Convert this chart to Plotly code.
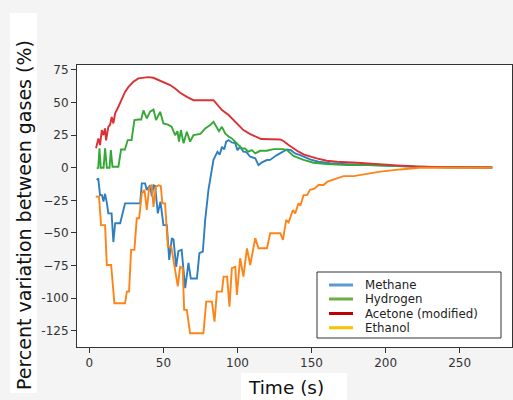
import plotly.graph_objects as go

# ---- data ----
methane_t = [5, 6, 7.2, 8.5, 9.5, 10.6, 11.8, 12.8, 15, 16.2, 17.4, 20.8, 24.1, 34.3, 35.4, 37.6, 38.8, 41, 42.2,
             43.3, 44.4, 46.2, 48, 49.3, 50, 52.3, 53.9, 55.7, 56.8, 58.6, 60.1, 62.3, 64.7, 66.9, 68.5, 72.6, 74.3,
             76.6, 78.2, 80.4, 82.7, 83.8, 86.5, 88, 89.5, 91, 92.4, 94, 96.2, 98.4, 100, 101.8, 104, 106, 108.6,
             112, 114.2, 116.5, 119.9, 122, 126.6, 131, 133.4, 136, 138.9, 142.3, 145.6, 149, 154.7, 162.6, 173.8,
             189.5, 205.4, 220, 240, 272]
methane_v = [-9.4, -8.2, -21, -21, -26, -20, -27, -35, -35, -57, -42.6, -42.6, -27.3, -27.3, -12, -12, -17, -13.5, -22,
             -13.5, -14, -35, -26, -37.5, -44, -44, -70.7, -54, -55, -76, -64, -63, -92.4, -73, -85, -85, -65.6,
             -64.4, -40, -17, -2, 6, 12.3, 10, 16, 14, 20, 21.2, 19.4, 19, 13.5, 16, 12.3, 12, 8.4,
             7.2, 2, 4.1, 5.9, 6, 9.7, 12.3, 14, 13.5, 11, 9.7, 8, 6.4, 4.6, 3.4, 2.8,
             2, 1.5, 0.8, 0.4, 0.2]

hydrogen_t = [5, 6, 6.8, 7.7, 9.6, 10.6, 11.8, 13.6, 14.5, 15.6, 19.6, 21.4, 24, 25.9, 28.5, 30.4, 33.1, 35, 36.5,
              38.8, 41, 43.3, 45, 47.8, 50, 53, 55.5, 57.9, 59.5, 60.5, 61.8, 63.6, 65.8, 68, 70.3, 75, 78.2, 81.6,
              83.8, 86, 87.5, 89.5, 91.7, 94, 96.2, 98.4, 100.7, 103, 105, 107.4, 109.7, 112, 115.3, 119.9, 124.3,
              131, 133.4, 137.8, 144.6, 151.4, 160.3, 173.8, 187, 205.4, 220, 240, 272]
hydrogen_v = [-0.5, 0, 14.9, 0, 0, 14.9, 0, 0, 13.6, 0.8, 0.8, 14, 14, 21.2, 21.2, 36.5, 37, 37, 44,
              37.8, 43, 44.7, 36.5, 42.9, 34, 33, 31.5, 25, 28, 20, 28.9, 18.7, 27.6, 20, 25, 26, 30.2, 32.7,
              35.2, 31.4, 28, 31.4, 26.3, 24, 22.5, 20, 17.4, 14.8, 14.8, 12.3, 13.5, 11, 13, 13, 14.3,
              14.3, 13.5, 9, 6, 3.8, 2.8, 2, 2, 1.3, 0.6, 0.3, 0.2]

acetone_t = [4.5, 6.1, 7.2, 8.4, 9.5, 10.6, 11.3, 12.8, 14, 15.1, 16.2, 17.4, 19.6, 21.9, 24.1, 26.4, 29.7, 33.1,
             36.5, 39.9, 43.2, 47.8, 51.1, 54.5, 57.9, 61.3, 65.8, 70.3, 83.8, 86, 89.5, 94, 97.3, 100.7, 104,
             108.6, 113, 116, 128.9, 131, 134.5, 138, 141.2, 145, 149, 153.5, 160.3, 167.2, 180.7, 192, 201,
             207.7, 220, 240, 272]
acetone_v = [14.9, 22.5, 17.4, 28.9, 25, 30.2, 21, 31.4, 33, 39, 34, 41.8, 46.8, 53.2, 58.2, 62, 65.9, 68.5,
             69.2, 69.5, 69, 66.7, 64.7, 63.4, 60.8, 57.5, 54.4, 51.8, 51.8, 48.8, 44.2, 40.4, 36.5, 32.7, 28.9,
             25.8, 23.3, 22, 21.7, 20.5, 17.4, 14.5, 12.3, 10, 8.4, 7.2, 5.4, 4.6, 3.8, 2.8, 2.3,
             1.8, 1, 0.5, 0.3]

ethanol_t = [4.3, 6.5, 7.9, 10.6, 11.8, 14.7, 16.9, 24.1, 25.3, 26.8, 28.2, 30.4, 32, 33.6, 35.4, 37.2, 38.8,
             40.3, 42, 43.3, 44.9, 46.7, 48.2, 49.3, 51.1, 53, 55.3, 56.8, 59.7, 61.3, 63, 64, 65.8, 68, 77,
             78.9, 82.7, 84.5, 86.1, 89.5, 90.6, 93, 94.6, 96.2, 98.5, 99.6, 101.8, 104, 106.4, 108.6, 112,
             114.2, 119.9, 122.1, 128.9, 130.7, 132.9, 134.5, 137.4, 139, 141.2, 142.5, 144.6, 147, 149, 152,
             154.7, 158, 160.8, 167.2, 171.6, 178.4, 186.3, 196.4, 210, 223, 272]
ethanol_v = [-22.2, -22, -44, -44, -74.6, -74.6, -104, -104, -95, -95, -63, -63, -38.8, -38.8, -19.6, -17, -32.4,
             -15.8, -13, -30, -14.6, -13.5, -14, -27.3, -27.3, -60.5, -60.5, -70.7, -91, -76, -77, -109, -109, -127, -127,
             -102.7, -102.7, -118, -95, -95, -83.5, -83.5, -106.5, -77, -76, -97.5, -69.4, -83.5, -61.8, -74.6, -54,
             -61.8, -61.8, -50.3, -50.3, -55.4, -40, -42, -32.4, -35, -27.3, -29, -21, -21, -17, -16,
             -13.3, -13.3, -10.7, -8.1, -6.4, -6.4, -4.8, -3, -1.3, 0, 0]

legend_names = ["Methane", "Hydrogen", "Acetone (modified)", "Ethanol"]
legend_colors = ["#5b9bd5", "#70ad47", "#c00000", "#ffc000"]

x_ticks = [0, 50, 100, 150, 200, 250]
y_ticks = [75, 50, 25, 0, -25, -50, -75, -100, -125]
y_ticktext = ["75", "50", "25", "0", "\u221225", "\u221250", "\u221275", "-100", "-125"]

# ---- figure ----
fig = go.Figure()
series = [
    ("Methane", methane_t, methane_v, "#2f7fc0"),
    ("Hydrogen", hydrogen_t, hydrogen_v, "#35a835"),
    ("Acetone (modified)", acetone_t, acetone_v, "#dc3033"),
    ("Ethanol", ethanol_t, ethanol_v, "#ff8418"),
]
for name, t, v, c in series:
    fig.add_trace(go.Scatter(x=t, y=v, mode="lines", name=name, showlegend=False,
                             line=dict(color=c, width=1.9)))

W, H = 513, 400
L, R, T, B = 77, 1, 65, 53
pw, ph = W - L - R, H - T - B


def px(x):
    return (x - L) / pw


def py(y):
    return (H - B - y) / ph


shapes = [
    # white boxes behind the axis titles
    dict(type="rect", xref="paper", yref="paper", x0=px(10), x1=px(37), y0=py(393), y1=py(13),
         fillcolor="white", line=dict(width=0), layer="below"),
    dict(type="rect", xref="paper", yref="paper", x0=px(241), x1=px(347), y0=py(400), y1=py(373),
         fillcolor="white", line=dict(width=0), layer="below"),
    # legend box
    dict(type="rect", xref="paper", yref="paper", x0=px(317), x1=px(501), y0=py(338), y1=py(272),
         fillcolor="white", line=dict(color="#333333", width=1)),
]
annotations = [
    dict(text="Percent variation between gases (%)", xref="paper", yref="paper", x=px(24), y=py(215),
         textangle=-90, showarrow=False, font=dict(family="DejaVu Sans", size=19, color="#111111"),
         xanchor="center", yanchor="middle"),
    dict(text="Time (s)", xref="paper", yref="paper", x=px(285.5), y=py(387), showarrow=False,
         font=dict(family="DejaVu Sans", size=18.5, color="#111111"), xanchor="center", yanchor="middle"),
]
rows = [285, 299, 313.5, 327.7]
for name, col, ry in zip(legend_names, legend_colors, rows):
    shapes.append(dict(type="line", xref="paper", yref="paper", x0=px(329), x1=px(353), y0=py(ry), y1=py(ry),
                       line=dict(color=col, width=3)))
    annotations.append(dict(text=name, xref="paper", yref="paper", x=px(363), y=py(ry), xanchor="left",
                            yanchor="middle", showarrow=False,
                            font=dict(family="DejaVu Sans", size=11.8, color="#222222")))

fig.update_layout(
    width=W, height=H,
    margin=dict(l=L, r=R, t=T, b=B),
    paper_bgcolor="#f4f4f4",
    plot_bgcolor="white",
    showlegend=False,
    shapes=shapes,
    annotations=annotations,
    xaxis=dict(range=[-8.35, 285.35], tickvals=x_ticks, ticks="outside", ticklen=5, tickcolor="#333333",
               showgrid=False, zeroline=False, showline=True, mirror=True, linecolor="#333333", linewidth=1,
               tickfont=dict(family="DejaVu Sans", size=12, color="#333333")),
    yaxis=dict(range=[-137.5, 78.8], tickvals=y_ticks, ticktext=y_ticktext, ticks="outside", ticklen=5,
               tickcolor="#333333", showgrid=False, zeroline=False, showline=True, mirror=True,
               linecolor="#333333", linewidth=1,
               tickfont=dict(family="DejaVu Sans", size=12, color="#333333")),
)

fig.write_html("out.html", config={"displayModeBar": False},
               post_script="document.body.style.margin='0';document.body.style.overflow='hidden';")
